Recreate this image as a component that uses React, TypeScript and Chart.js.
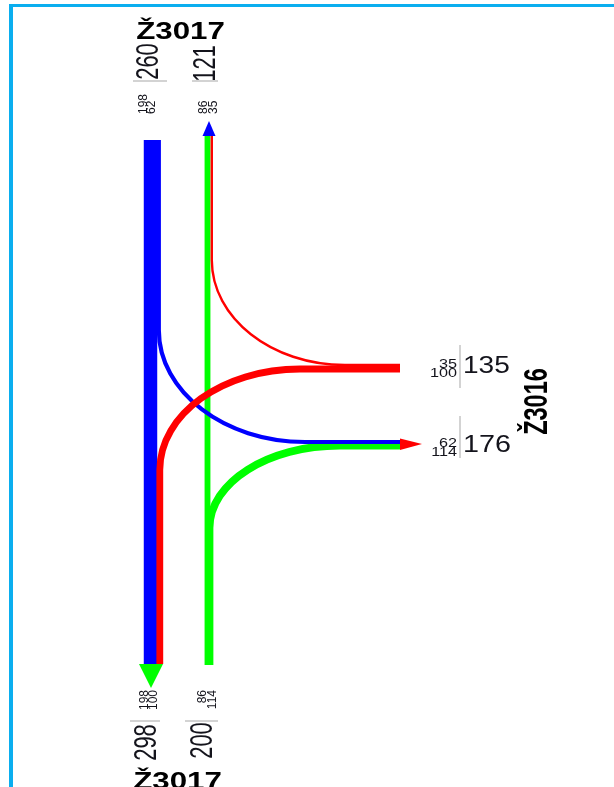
import React, { useEffect, useRef } from 'react';
import { Chart, registerables } from 'chart.js';

Chart.register(...registerables);

// ---------- DATA ----------
// Arms of the intersection: north, south, east
const armKeys = ['N', 'S', 'E'];
const armNames = ['Ž3017', 'Ž3017', 'Ž3016'];
const armColors = ['#0000ff', '#00ff00', '#ff0000'];

// Turning movements (origin → destination) and their volumes
const movementNames = ['N→S', 'N→E', 'S→N', 'S→E', 'E→N', 'E→S'];
const movementFrom = ['N', 'N', 'S', 'S', 'E', 'E'];
const movementTo = ['S', 'E', 'N', 'E', 'N', 'S'];
const movementValues = [198, 62, 86, 114, 35, 100];

// ---------- derived ----------
const valueOf = (name: string) => movementValues[movementNames.indexOf(name)];
const inTotal = (arm: string) =>
  movementValues.reduce((s, v, i) => (movementFrom[i] === arm ? s + v : s), 0);
const outTotal = (arm: string) =>
  movementValues.reduce((s, v, i) => (movementTo[i] === arm ? s + v : s), 0);
const colorOfArm = (arm: string) => armColors[armKeys.indexOf(arm)];

// ---------- LAYOUT (positions / styles, in axis units = px) ----------
type Pt = { x: number; y: number; c?: number };
const FLOW_PATHS: Record<string, Pt[]> = {
  'N→S': [{ x: 150.5, y: 140 }, { x: 150.5, y: 664 }],
  'N→E': [{ x: 158.8, y: 140 }, { x: 158.8, y: 330 }, { x: 158.8, y: 442, c: 1 }, { x: 305, y: 442 }, { x: 400, y: 442 }],
  'S→N': [{ x: 207.5, y: 665 }, { x: 207.5, y: 136 }],
  'S→E': [{ x: 209.5, y: 665 }, { x: 209.5, y: 528 }, { x: 209.5, y: 445.5, c: 1 }, { x: 340, y: 445.5 }, { x: 400, y: 445.5 }],
  'E→N': [{ x: 400, y: 365 }, { x: 345, y: 365 }, { x: 211.8, y: 365, c: 1 }, { x: 211.8, y: 260 }, { x: 211.8, y: 136 }],
  'E→S': [{ x: 400, y: 369 }, { x: 300, y: 369 }, { x: 159.8, y: 369, c: 1 }, { x: 159.8, y: 470 }, { x: 159.8, y: 664 }],
};
const ARROW_SHAPES: Record<string, Pt[]> = {
  N: [{ x: 202.5, y: 136 }, { x: 209, y: 121 }, { x: 215.5, y: 136 }],
  S: [{ x: 139, y: 664 }, { x: 151, y: 688 }, { x: 163, y: 664 }],
  E: [{ x: 400, y: 438.5 }, { x: 422, y: 444 }, { x: 400, y: 450 }],
};
const DRAW_ORDER = ['S→N', 'S→E', 'N→S', 'N→E', 'E→N', 'E→S'];
const WIDTH_PER_UNIT = 0.068;
const FONT = '"Liberation Sans", Arial, Helvetica, sans-serif';
const NUM_COLOR = '#14141c';

type TextItem = {
  text: string; x: number; y: number; rot?: boolean; align: CanvasTextAlign;
  size: number; sx: number; bold?: boolean; color?: string;
};

const SMALL_ROT = { size: 12, sx: 1.0 };
const SMALL_H = { size: 12, sx: 1.35 };

const textItems: TextItem[] = [
  // north arm
  { text: armNames[0], x: 180.5, y: 39, align: 'center', size: 23, sx: 1.36, bold: true, color: '#000' },
  { text: String(inTotal('N')), x: 158, y: 61.5, rot: true, align: 'center', size: 22, sx: 1.4 },
  { text: String(outTotal('N')), x: 215, y: 63.5, rot: true, align: 'center', size: 22, sx: 1.4 },
  { text: String(valueOf('N→S')), x: 146.5, y: 114, rot: true, align: 'left', ...SMALL_ROT },
  { text: String(valueOf('N→E')), x: 155, y: 114, rot: true, align: 'left', ...SMALL_ROT },
  { text: String(valueOf('S→N')), x: 207, y: 114, rot: true, align: 'left', ...SMALL_ROT },
  { text: String(valueOf('E→N')), x: 217, y: 114, rot: true, align: 'left', ...SMALL_ROT },
  // south arm
  { text: String(valueOf('N→S')), x: 147.5, y: 690, rot: true, align: 'right', ...SMALL_ROT },
  { text: String(valueOf('E→S')), x: 156.5, y: 690, rot: true, align: 'right', ...SMALL_ROT },
  { text: String(valueOf('S→N')), x: 206, y: 690, rot: true, align: 'right', ...SMALL_ROT },
  { text: String(valueOf('S→E')), x: 215.5, y: 690, rot: true, align: 'right', ...SMALL_ROT },
  { text: String(outTotal('S')), x: 156, y: 742.5, rot: true, align: 'center', size: 22, sx: 1.4 },
  { text: String(inTotal('S')), x: 212, y: 740.5, rot: true, align: 'center', size: 22, sx: 1.4 },
  { text: armNames[1], x: 177.5, y: 789, align: 'center', size: 23, sx: 1.36, bold: true, color: '#000' },
  // east arm
  { text: String(valueOf('E→N')), x: 457, y: 368, align: 'right', ...SMALL_H },
  { text: String(valueOf('E→S')), x: 457, y: 377, align: 'right', ...SMALL_H },
  { text: String(inTotal('E')), x: 463, y: 373, align: 'left', size: 23, sx: 1.22 },
  { text: String(valueOf('N→E')), x: 457, y: 447, align: 'right', ...SMALL_H },
  { text: String(valueOf('S→E')), x: 457, y: 456, align: 'right', ...SMALL_H },
  { text: String(outTotal('E')), x: 463, y: 452, align: 'left', size: 23, sx: 1.25 },
  { text: armNames[2], x: 547, y: 401.5, rot: true, align: 'center', size: 23.5, sx: 1.4, bold: true, color: '#000' },
];

const SEPARATORS = [
  { x1: 133, y1: 81, x2: 167, y2: 81 },
  { x1: 192, y1: 81, x2: 218, y2: 81 },
  { x1: 130, y1: 721, x2: 160, y2: 721 },
  { x1: 185, y1: 721, x2: 218, y2: 721 },
  { x1: 460, y1: 345, x2: 460, y2: 388 },
  { x1: 460, y1: 416, x2: 460, y2: 458 },
];

const K = 0.5523;

const flowPlugin = {
  id: 'flowPlugin',
  beforeDatasetDraw() {
    return false;
  },
  afterDatasetsDraw(chart: any) {
    const ctx: CanvasRenderingContext2D = chart.ctx;
    const sx = chart.scales.x;
    const sy = chart.scales.y;
    chart.data.datasets.forEach((ds: any, i: number) => {
      const meta = chart.getDatasetMeta(i);
      const pts = meta.data.map((el: any, j: number) => ({ x: el.x, y: el.y, c: ds.data[j].c }));
      ctx.save();
      if (ds.kind === 'arrow') {
        ctx.beginPath();
        pts.forEach((p: any, j: number) => (j ? ctx.lineTo(p.x, p.y) : ctx.moveTo(p.x, p.y)));
        ctx.closePath();
        ctx.fillStyle = ds.backgroundColor;
        ctx.fill();
      } else {
        ctx.beginPath();
        ctx.moveTo(pts[0].x, pts[0].y);
        for (let j = 1; j < pts.length; j++) {
          const p = pts[j];
          if (p.c && j + 1 < pts.length) {
            const a = pts[j - 1];
            const b = pts[j + 1];
            ctx.bezierCurveTo(
              a.x + K * (p.x - a.x), a.y + K * (p.y - a.y),
              b.x + K * (p.x - b.x), b.y + K * (p.y - b.y),
              b.x, b.y
            );
            j++;
          } else {
            ctx.lineTo(p.x, p.y);
          }
        }
        ctx.lineWidth = ds.borderWidth;
        ctx.strokeStyle = ds.borderColor;
        ctx.lineCap = 'butt';
        ctx.lineJoin = 'round';
        ctx.stroke();
      }
      ctx.restore();
    });

    // separators
    ctx.save();
    ctx.strokeStyle = '#c4c4c4';
    ctx.lineWidth = 1.5;
    SEPARATORS.forEach((s) => {
      ctx.beginPath();
      ctx.moveTo(sx.getPixelForValue(s.x1), sy.getPixelForValue(s.y1));
      ctx.lineTo(sx.getPixelForValue(s.x2), sy.getPixelForValue(s.y2));
      ctx.stroke();
    });
    ctx.restore();

    // texts
    textItems.forEach((t) => {
      ctx.save();
      ctx.translate(sx.getPixelForValue(t.x), sy.getPixelForValue(t.y));
      ctx.scale(t.sx, 1);
      if (t.rot) ctx.rotate(-Math.PI / 2);
      ctx.font = `${t.bold ? 'bold ' : ''}${t.size}px ${FONT}`;
      ctx.textAlign = t.align;
      ctx.textBaseline = 'alphabetic';
      ctx.fillStyle = t.color || NUM_COLOR;
      ctx.fillText(t.text, 0, 0);
      ctx.restore();
    });
  },
};

export default function App() {
  const ref = useRef<HTMLCanvasElement | null>(null);

  useEffect(() => {
    if (!ref.current) return;
    const flowSets = DRAW_ORDER.map((name) => {
      const i = movementNames.indexOf(name);
      return {
        kind: 'flow',
        label: name,
        data: FLOW_PATHS[name],
        borderColor: colorOfArm(movementFrom[i]),
        borderWidth: movementValues[i] * WIDTH_PER_UNIT,
        pointRadius: 0,
        tension: 0,
      };
    });
    const arrowSets = armKeys.map((arm) => ({
      kind: 'arrow',
      label: 'exit ' + arm + ' (' + outTotal(arm) + ')',
      data: ARROW_SHAPES[arm],
      borderColor: colorOfArm(arm),
      backgroundColor: colorOfArm(arm),
      borderWidth: 0,
      pointRadius: 0,
    }));
    const chart = new Chart(ref.current, {
      type: 'line',
      data: { datasets: [...flowSets, ...arrowSets] as any },
      options: {
        animation: false,
        responsive: false,
        maintainAspectRatio: false,
        layout: { padding: 0 },
        plugins: { legend: { display: false }, tooltip: { enabled: false } },
        events: [],
        scales: {
          x: { type: 'linear', min: 0, max: 614, display: false },
          y: { type: 'linear', min: 0, max: 787, reverse: true, display: false },
        },
      },
      plugins: [flowPlugin as any],
    });
    return () => chart.destroy();
  }, []);

  return (
    <div style={{ position: 'fixed', left: 0, top: 0, width: 614, height: 787, overflow: 'hidden', background: '#fff' }}>
      <div
        style={{
          position: 'absolute', left: 9, top: 4, width: 800, height: 1000,
          borderLeft: '4px solid #0aaeef', borderTop: '3px solid #0aaeef',
        }}
      />
      <canvas ref={ref} width={614} height={787} style={{ position: 'absolute', left: 0, top: 0, width: 614, height: 787 }} />
    </div>
  );
}
